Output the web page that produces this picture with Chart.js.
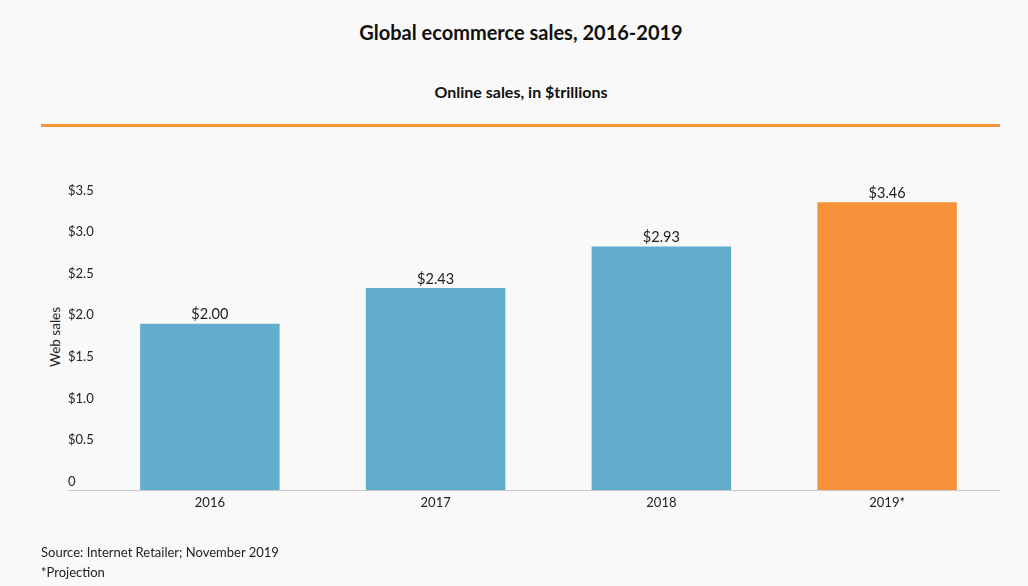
<!DOCTYPE html>
<html>
<head>
<meta charset="utf-8">
<script src="https://cdn.jsdelivr.net/npm/chart.js@4"></script>
<style>
  html, body { margin: 0; padding: 0; background: #f9f9f9; }
  body { width: 1028px; height: 586px; position: relative; overflow: hidden; font-family: Lato, sans-serif; color: #222; }
  #chart { position: absolute; left: 0; top: 0; }
  .txt { position: absolute; white-space: nowrap; }
  #title { left: 7px; width: 1028px; text-align: center; top: 20px; line-height: 24px; font-size: 20px; font-weight: 700; color: #111; }
  #subtitle { left: 7px; width: 1028px; text-align: center; top: 82px; line-height: 20px; font-size: 16px; font-weight: 700; color: #111; }
  #rule { position: absolute; left: 41px; width: 959px; top: 124px; height: 3px; background: #f7923a; }
  #ytitle { left: 55px; top: 337px; font-size: 13.5px; line-height: 16px; transform: translate(-50%, -50%) rotate(-90deg); }
  #source { left: 41px; top: 543px; font-size: 13px; line-height: 18px; }
  #note { left: 41px; top: 563px; font-size: 13px; line-height: 18px; }
</style>
</head>
<body>
<div class="txt" id="title">Global ecommerce sales, 2016-2019</div>
<div class="txt" id="subtitle">Online sales, in $trillions</div>
<div id="rule"></div>
<div class="txt" id="ytitle">Web sales</div>
<canvas id="chart" width="1028" height="586"></canvas>
<div class="txt" id="source">Source: Internet Retailer; November 2019</div>
<div class="txt" id="note">*Projection</div>
<script>
const years = ['2016', '2017', '2018', '2019*'];
const sales = [2.00, 2.43, 2.93, 3.46];
const barColors = ['#63adcc', '#63adcc', '#63adcc', '#f7923a'];
const yTicks = [0, 0.5, 1.0, 1.5, 2.0, 2.5, 3.0, 3.5];

// value labels above each bar
const barLabels = {
  id: 'barLabels',
  afterDatasetsDraw(chart) {
    const ctx = chart.ctx;
    const meta = chart.getDatasetMeta(0);
    ctx.save();
    ctx.font = '14.5px Lato';
    ctx.fillStyle = '#222';
    ctx.textAlign = 'center';
    ctx.textBaseline = 'middle';
    meta.data.forEach((bar, i) => {
      ctx.fillText('$' + sales[i].toFixed(2), bar.x, bar.y - 9);
    });
    ctx.restore();
  }
};

// baseline runs from the y labels to the right edge
const baseLine = {
  id: 'baseLine',
  afterDraw(chart) {
    const ctx = chart.ctx;
    const y = Math.round(chart.scales.y.getPixelForValue(0)) + 0.5;
    ctx.save();
    ctx.strokeStyle = '#c8c8c8';
    ctx.lineWidth = 1;
    ctx.beginPath();
    ctx.moveTo(chart.scales.y.left, y);
    ctx.lineTo(chart.chartArea.right, y);
    ctx.stroke();
    ctx.restore();
  }
};

new Chart(document.getElementById('chart'), {
  type: 'bar',
  data: {
    labels: years,
    datasets: [{
      data: sales,
      backgroundColor: barColors,
      categoryPercentage: 1,
      barPercentage: 0.618
    }]
  },
  options: {
    responsive: false,
    animation: false,
    layout: { padding: { top: 199, left: 68, right: 28, bottom: 66 } },
    plugins: { legend: { display: false }, tooltip: { enabled: false } },
    scales: {
      x: {
        grid: { display: false, drawTicks: false },
        border: { display: false },
        ticks: { color: '#222', font: { family: 'Lato', size: 13 }, padding: 5.5 },
        afterFit(scale) { scale.height = 30; }
      },
      y: {
        min: 0,
        max: 3.5,
        grid: { display: false, drawTicks: false },
        border: { display: false },
        afterBuildTicks(scale) { scale.ticks = yTicks.map(v => ({ value: v })); },
        ticks: {
          color: '#222',
          font: { family: 'Lato', size: 13 },
          crossAlign: 'far',
          labelOffset: -8.5,
          callback: v => v === 0 ? '0' : '$' + v.toFixed(1)
        },
        afterFit(scale) { scale.width = 29; }
      }
    }
  },
  plugins: [barLabels, baseLine]
});
</script>
</body>
</html>
